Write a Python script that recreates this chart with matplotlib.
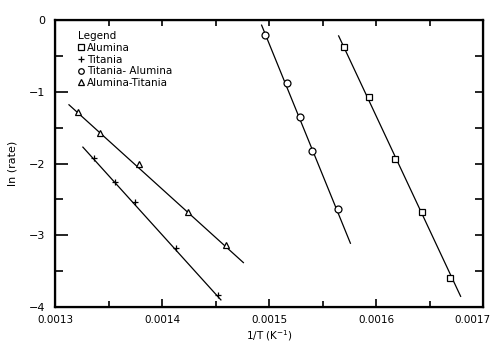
import matplotlib.pyplot as plt
from matplotlib.lines import Line2D
from matplotlib.transforms import ScaledTranslation

# data (x = 1/T in K^-1, y = ln(rate))
alumina_x = [0.001570, 0.001593, 0.001618, 0.001643, 0.001669]
alumina_y = [-0.38, -1.07, -1.94, -2.68, -3.60]
alumina_fit_x = [0.001565, 0.001679]
alumina_fit_y = [-0.22, -3.85]

titania_x = [0.001336, 0.001356, 0.001375, 0.001413, 0.001452]
titania_y = [-1.92, -2.25, -2.54, -3.18, -3.83]
titania_fit_x = [0.001326, 0.001455]
titania_fit_y = [-1.77, -3.90]

tit_alu_x = [0.001496, 0.001517, 0.001529, 0.001540, 0.001564]
tit_alu_y = [-0.21, -0.88, -1.35, -1.82, -2.63]
tit_alu_fit_x = [0.001493, 0.001576]
tit_alu_fit_y = [-0.07, -3.11]

alu_tit_x = [0.001321, 0.001342, 0.001378, 0.001424, 0.001460]
alu_tit_y = [-1.28, -1.57, -2.01, -2.67, -3.14]
alu_tit_fit_x = [0.001313, 0.001476]
alu_tit_fit_y = [-1.18, -3.38]

x_ticks = [0.0013, 0.0014, 0.0015, 0.0016, 0.0017]
x_tick_labels = ['0.0013', '0.0014', '0.0015', '0.0016', '0.0017']
y_ticks = [0, -1, -2, -3, -4]
y_tick_labels = ['0', '\u22121', '\u22122', '\u22123', '\u22124']

fig = plt.figure(figsize=(4.96, 3.47), dpi=100)
ax = fig.add_axes([0.111, 0.115, 0.863, 0.827])

mk = dict(markerfacecolor='white', markeredgecolor='black', markeredgewidth=0.9,
          linestyle='none', zorder=3)
ln = dict(color='black', linewidth=0.9, zorder=2)

ax.plot(alumina_fit_x, alumina_fit_y, **ln)
ax.plot(alumina_x, alumina_y, marker='s', markersize=4.5, **mk)
ax.plot(titania_fit_x, titania_fit_y, **ln)
ax.plot(titania_x, titania_y, marker='+', markersize=5, **mk)
ax.plot(tit_alu_fit_x, tit_alu_fit_y, **ln)
ax.plot(tit_alu_x, tit_alu_y, marker='o', markersize=5, **mk)
ax.plot(alu_tit_fit_x, alu_tit_fit_y, **ln)
ax.plot(alu_tit_x, alu_tit_y, marker='^', markersize=5, **mk)

ax.set_xlim(0.0013, 0.0017)
ax.set_ylim(-4, 0)
ax.set_xticks(x_ticks)
ax.set_xticklabels(x_tick_labels, fontsize=7.5)
ax.set_xticks([0.00135, 0.00145, 0.00155, 0.00165], minor=True)
ax.set_yticks(y_ticks)
ax.set_yticklabels(y_tick_labels, fontsize=8)
ax.set_yticks([-0.5, -1.5, -2.5, -3.5], minor=True)
ax.tick_params(which='both', direction='in', width=1.2)
ax.tick_params(axis='y', which='major', length=9.5, pad=7)
ax.tick_params(axis='y', which='minor', length=6)
ax.tick_params(axis='x', which='major', length=5.5, pad=6)
ax.tick_params(axis='x', which='minor', length=4)
for s in ax.spines.values():
    s.set_linewidth(1.6)
# keep the last x label inside the figure, as in the original
last = ax.get_xticklabels()[-1]
last.set_transform(last.get_transform() + ScaledTranslation(-8 / 72, 0, fig.dpi_scale_trans))

# right and top ticks
ax_r = ax.twinx()
ax_r.set_ylim(-4, 0)
ax_r.set_yticks([-3.5, -3, -2.5, -2, -1.5, -1, -0.5])
ax_r.tick_params(direction='in', length=6, width=1.2, labelright=False)
ax_t = ax.twiny()
ax_t.set_xlim(0.0013, 0.0017)
ax_t.set_xticks([0.00135, 0.0014, 0.00145, 0.0015, 0.00155, 0.0016, 0.00165])
ax_t.tick_params(direction='in', length=4.5, width=1.2, labeltop=False)

ax.set_xlabel('1/T (K$^{-1}$)', fontsize=7.5, labelpad=2)
ax.set_ylabel('ln (rate)', fontsize=8, labelpad=8)

handles = [
    Line2D([], [], marker='s', markersize=4, **mk),
    Line2D([], [], marker='+', markersize=5, **mk),
    Line2D([], [], marker='o', markersize=4, **mk),
    Line2D([], [], marker='^', markersize=4, **mk),
]
labels = ['Alumina', 'Titania', 'Titania- Alumina', 'Alumina-Titania']
leg = ax.legend(handles, labels, title='Legend', loc='upper left',
                bbox_to_anchor=(0.045, 0.975), frameon=False, fontsize=7.5,
                title_fontsize=7.5, handlelength=0.5, handletextpad=0.3,
                labelspacing=0.15, borderaxespad=0.0, alignment='left')

fig.savefig('out.png', dpi=100)
